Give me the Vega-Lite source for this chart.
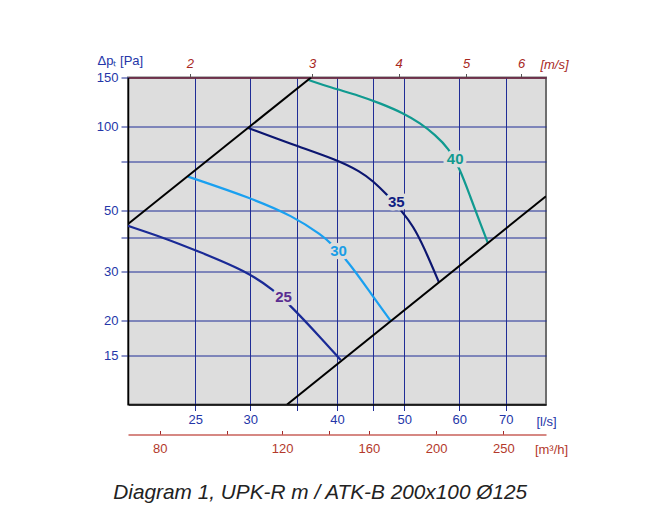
{
  "$schema": "https://vega.github.io/schema/vega-lite/v6.json",
  "width": 418,
  "height": 327,
  "autosize": {"type": "none"},
  "padding": {"left": 128, "top": 77.5, "right": 111, "bottom": 110.5},
  "background": "white",
  "config": {
    "view": {"fill": "#dddddd", "stroke": "#6e6e6e", "strokeWidth": 2},
    "font": "Liberation Sans"
  },
  "title": {
    "text": "Diagram 1, UPK-R m / ATK-B 200x100 Ø125",
    "orient": "bottom",
    "anchor": "start",
    "dx": 17,
    "offset": 26,
    "fontSize": 20.8,
    "fontStyle": "italic",
    "fontWeight": "normal",
    "color": "#222222",
    "font": "Liberation Sans"
  },
  "datasets": {
    "curves": [
      {"curve": "25", "q": 20.0, "dp": 43.9},
      {"curve": "25", "q": 22.7, "dp": 39.5},
      {"curve": "25", "q": 25.0, "dp": 35.9},
      {"curve": "25", "q": 29.7, "dp": 30.1},
      {"curve": "25", "q": 32.4, "dp": 25.8},
      {"curve": "25", "q": 34.4, "dp": 22.5},
      {"curve": "25", "q": 37.8, "dp": 17.5},
      {"curve": "25", "q": 40.5, "dp": 14.45},
      {"curve": "30", "q": 24.4, "dp": 66.0},
      {"curve": "30", "q": 30.0, "dp": 55.4},
      {"curve": "30", "q": 34.6, "dp": 47.6},
      {"curve": "30", "q": 38.2, "dp": 40.3},
      {"curve": "30", "q": 39.1, "dp": 38.2},
      {"curve": "30", "q": 41.5, "dp": 32.8},
      {"curve": "30", "q": 45.1, "dp": 24.4},
      {"curve": "30", "q": 47.8, "dp": 20.0},
      {"curve": "35", "q": 29.8, "dp": 98.8},
      {"curve": "35", "q": 34.6, "dp": 85.9},
      {"curve": "35", "q": 40.0, "dp": 75.9},
      {"curve": "35", "q": 43.2, "dp": 68.9},
      {"curve": "35", "q": 45.1, "dp": 63.6},
      {"curve": "35", "q": 47.2, "dp": 56.9},
      {"curve": "35", "q": 49.6, "dp": 49.6},
      {"curve": "35", "q": 51.5, "dp": 43.8},
      {"curve": "35", "q": 53.3, "dp": 37.1},
      {"curve": "35", "q": 56.1, "dp": 27.5},
      {"curve": "40", "q": 36.4, "dp": 147.0},
      {"curve": "40", "q": 39.1, "dp": 138.3},
      {"curve": "40", "q": 43.2, "dp": 128.8},
      {"curve": "40", "q": 46.1, "dp": 121.3},
      {"curve": "40", "q": 49.9, "dp": 111.6},
      {"curve": "40", "q": 52.7, "dp": 102.8},
      {"curve": "40", "q": 55.4, "dp": 93.3},
      {"curve": "40", "q": 57.9, "dp": 83.6},
      {"curve": "40", "q": 60.2, "dp": 69.9},
      {"curve": "40", "q": 62.2, "dp": 56.1},
      {"curve": "40", "q": 64.3, "dp": 45.0},
      {"curve": "40", "q": 66.0, "dp": 38.0}
    ],
    "system": [
      {"line": "min", "q": 20.0, "dp": 44.6},
      {"line": "min", "q": 36.7, "dp": 150.0},
      {"line": "max", "q": 33.9, "dp": 10.0},
      {"line": "max", "q": 80.0, "dp": 56.1}
    ],
    "labels": [
      {"curve": "25", "q": 33.5, "dp": 24.4},
      {"curve": "30", "q": 40.2, "dp": 35.6},
      {"curve": "35", "q": 48.7, "dp": 53.4},
      {"curve": "40", "q": 59.2, "dp": 76.4}
    ],
    "m3h": [{"m3h": 80}, {"m3h": 250}],
    "ms": [{"ms": 2}, {"ms": 6}]
  },
  "layer": [
    {
      "encoding": {
        "x": {
          "field": "q",
          "type": "quantitative",
          "scale": {"type": "log", "domain": [20, 80], "nice": false, "zero": false},
          "axis": {
            "orient": "bottom",
            "values": [25, 30, 35, 40, 45, 50, 60, 70],
            "labelExpr": "(datum.value==35||datum.value==45)?'':datum.label",
            "format": "d",
            "grid": true,
            "gridColor": "#1f2d96",
            "gridWidth": 1,
            "gridOpacity": 1,
            "domainColor": "black",
            "domainWidth": 1.5,
            "tickColor": "#1f2d96",
            "tickSize": 6,
            "tickWidth": 1,
            "labelColor": "#2436a8",
            "labelFontSize": 13,
            "labelPadding": 3,
            "labelFlush": false,
            "labelOverlap": false,
            "title": "[l/s]",
            "titleColor": "#2436a8",
            "titleFontSize": 13,
            "titleFontWeight": "normal",
            "titleAngle": 0,
            "titleX": 418,
            "titleY": 21,
            "titleAlign": "center",
            "titleBaseline": "alphabetic"
          }
        },
        "y": {
          "field": "dp",
          "type": "quantitative",
          "scale": {"type": "log", "domain": [10, 150], "nice": false, "zero": false},
          "axis": {
            "values": [15, 20, 30, 40, 50, 75, 100, 150],
            "labelExpr": "(datum.value==40||datum.value==75)?'':datum.label",
            "format": "d",
            "grid": true,
            "gridColor": "#1f2d96",
            "gridWidth": 1,
            "gridOpacity": 1,
            "domainColor": "black",
            "domainWidth": 1.5,
            "tickColor": "#1f2d96",
            "tickSize": 7,
            "labelColor": "#2436a8",
            "labelFontSize": 13,
            "labelPadding": 3,
            "labelFlush": false,
            "labelOverlap": false,
            "title": "Δpₜ [Pa]",
            "titleAngle": 0,
            "titleX": -31,
            "titleY": -13,
            "titleAlign": "left",
            "titleBaseline": "alphabetic",
            "titleColor": "#2436a8",
            "titleFontSize": 13,
            "titleFontWeight": "normal"
          }
        }
      },
      "layer": [
        {
          "data": {"name": "curves"},
          "mark": {"type": "line", "strokeWidth": 2.2, "clip": true, "interpolate": "basis"},
          "encoding": {
            "color": {
              "field": "curve",
              "type": "nominal",
              "scale": {"domain": ["25", "30", "35", "40"], "range": ["#1a2a96", "#1aa0f0", "#0c1670", "#109a90"]},
              "legend": null
            }
          }
        },
        {
          "data": {"name": "system"},
          "mark": {"type": "line", "color": "black", "strokeWidth": 2, "clip": true},
          "encoding": {"detail": {"field": "line", "type": "nominal"}}
        },
        {
          "data": {"name": "labels"},
          "mark": {"type": "text", "fontSize": 15, "fontWeight": "bold", "fill": "#dddddd", "stroke": "#dddddd", "strokeWidth": 7, "strokeJoin": "round"},
          "encoding": {"text": {"field": "curve", "type": "nominal"}}
        },
        {
          "data": {"name": "labels"},
          "mark": {"type": "text", "fontSize": 15, "fontWeight": "bold"},
          "encoding": {
            "text": {"field": "curve", "type": "nominal"},
            "color": {
              "field": "curve",
              "type": "nominal",
              "scale": {"domain": ["25", "30", "35", "40"], "range": ["#5a2d91", "#1a9de6", "#101e82", "#129a8f"]},
              "legend": null
            }
          }
        }
      ],
      "resolve": {"scale": {"color": "independent"}}
    },
    {
      "data": {"name": "m3h"},
      "mark": {"type": "point", "opacity": 0},
      "encoding": {
        "x": {
          "field": "m3h",
          "type": "quantitative",
          "scale": {"type": "log", "domain": [72, 288], "nice": false, "zero": false},
          "axis": {
            "orient": "bottom",
            "offset": 30,
            "values": [80, 100, 120, 140, 160, 200, 250],
            "labelExpr": "(datum.value==100||datum.value==140)?'':datum.label",
            "format": "d",
            "grid": false,
            "domainColor": "#c8605a",
            "domainWidth": 1.5,
            "tickColor": "#a02a2a",
            "tickSize": -4,
            "tickWidth": 1,
            "labelColor": "#b3392b",
            "labelFontSize": 13,
            "labelPadding": 12,
            "labelFlush": false,
            "labelOverlap": false,
            "title": "[m³/h]",
            "titleColor": "#b3392b",
            "titleFontSize": 13,
            "titleFontWeight": "normal",
            "titleAngle": 0,
            "titleX": 423,
            "titleY": 19,
            "titleAlign": "center",
            "titleBaseline": "alphabetic"
          }
        }
      }
    },
    {
      "data": {"name": "ms"},
      "mark": {"type": "point", "opacity": 0},
      "encoding": {
        "x": {
          "field": "ms",
          "type": "quantitative",
          "scale": {"type": "log", "domain": [1.6297, 6.5189], "nice": false, "zero": false},
          "axis": {
            "orient": "top",
            "values": [2, 3, 4, 5, 6],
            "format": "d",
            "grid": false,
            "domainColor": "#7a2a38",
            "domainWidth": 1.5,
            "tickColor": "#555555",
            "tickSize": 4,
            "tickWidth": 1,
            "labelColor": "#a8281e",
            "labelFontStyle": "italic",
            "labelFontSize": 13,
            "labelPadding": 3,
            "labelFlush": false,
            "labelOverlap": false,
            "title": "[m/s]",
            "titleColor": "#a8281e",
            "titleFontStyle": "italic",
            "titleFontSize": 13,
            "titleFontWeight": "normal",
            "titleAngle": 0,
            "titleX": 426,
            "titleY": -9,
            "titleAlign": "center",
            "titleBaseline": "alphabetic"
          }
        }
      }
    }
  ],
  "resolve": {"scale": {"x": "independent"}, "axis": {"x": "independent"}}
}
